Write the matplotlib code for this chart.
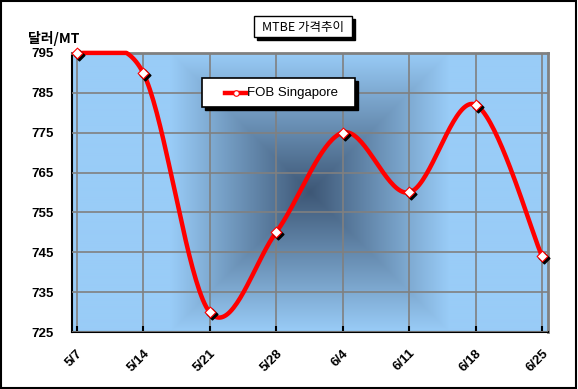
import numpy as np
import matplotlib
matplotlib.use("Agg")
import matplotlib.pyplot as plt
import matplotlib.transforms as mtransforms
from matplotlib.patches import Rectangle
from matplotlib.lines import Line2D

plt.rcParams['font.family'] = ['Liberation Sans', 'Noto Sans CJK KR', 'DejaVu Sans']
KR = ['Noto Sans CJK KR', 'DejaVu Sans']

dates = ["5/7", "5/14", "5/21", "5/28", "6/4", "6/11", "6/18", "6/25"]
price = [795, 790, 730, 750, 775, 760, 782, 744]
yticks = [725, 735, 745, 755, 765, 775, 785, 795]


def smooth(xs, ys, n=40):
    # Excel-style smoothed line (Catmull-Rom as cubic Bezier)
    P = np.column_stack([xs, ys]).astype(float)
    P = np.vstack([P[0], P, P[-1]])
    out = []
    for i in range(1, len(P) - 2):
        p0, p1, p2, p3 = P[i - 1], P[i], P[i + 1], P[i + 2]
        b1 = p1 + (p2 - p0) / 6
        b2 = p2 - (p3 - p1) / 6
        t = np.linspace(0, 1, n)[:, None]
        seg = ((1 - t) ** 3) * p1 + 3 * ((1 - t) ** 2) * t * b1 + 3 * (1 - t) * t ** 2 * b2 + t ** 3 * p2
        out.append(seg if i == 1 else seg[1:])
    s = np.vstack(out)
    return s[:, 0], s[:, 1]


fig = plt.figure(figsize=(5.78, 3.89), dpi=100)
fig.patch.set_facecolor("white")
fig.patches.append(Rectangle((0.002, 0.003), 0.995, 0.994, transform=fig.transFigure,
                             fill=False, lw=1.5, ec="black"))

ax = fig.add_axes([0.1246, 0.1465, 0.8235, 0.7175])
x = np.arange(len(dates))
ax.set_xlim(-0.07, len(dates) - 1 + 0.09)
ax.set_ylim(725, 795)

# square "from center" gradient, measured in pixels (plot area ~476 x 279 px)
u = np.linspace(-238, 238, 476)
v = np.linspace(-139.5, 139.5, 279)
U, V = np.meshgrid(u, v)
r = np.maximum(np.abs(U), np.abs(V)) / 139.5
t = np.clip(1 - r, 0, 1)
dark = np.array([0.24, 0.34, 0.46])
light = np.array([0.60, 0.80, 0.97])
img = light[None, None, :] * (1 - t[..., None]) + dark[None, None, :] * t[..., None]
ax.imshow(img, extent=[*ax.get_xlim(), *ax.get_ylim()], aspect="auto", zorder=0,
          interpolation="bilinear")

ax.set_yticks(yticks)
ax.set_xticks(x)
ax.grid(True, color="#808080", lw=1.2, zorder=1)
ax.set_axisbelow(False)
for s in ["top", "right"]:
    ax.spines[s].set_color("#808080")
    ax.spines[s].set_linewidth(2)
for s in ["left", "bottom"]:
    ax.spines[s].set_color("black")
    ax.spines[s].set_linewidth(1.5)

ax.set_yticklabels([str(y) for y in yticks], fontsize=9.5, fontweight="bold")
ax.set_xticklabels(dates, fontsize=9.5, fontweight="bold", rotation=45,
                   ha="right", va="top", rotation_mode="anchor")
ax.tick_params(axis="y", length=0, pad=13)
ax.tick_params(axis="x", length=4, width=1.5, direction="in", pad=11)

sx, sy = smooth(x, price)
sy = np.minimum(sy, ax.get_ylim()[1])
ax.plot(sx, sy, color="#ff0000", lw=3.2, zorder=3, solid_capstyle="round", clip_on=False)
shadow = mtransforms.offset_copy(ax.transData, fig=fig, x=2, y=-2, units="dots")
ax.scatter(x, price, marker="D", s=30, color="black", zorder=3.5, transform=shadow,
           clip_on=False)
ax.scatter(x, price, marker="D", s=30, facecolor="white", edgecolor="#ff0000", lw=0.8,
           zorder=4, clip_on=False)

# title box with shadow
fig.patches.append(Rectangle((254 / 578 + 0.005, 1 - 40 / 389), 98 / 578, 21 / 389,
                             transform=fig.transFigure, fc="black", ec="black"))
fig.patches.append(Rectangle((254 / 578, 1 - 37 / 389), 98 / 578, 21 / 389,
                             transform=fig.transFigure, fc="white", ec="black", lw=1))
fig.text(303 / 578, 1 - 27 / 389, "MTBE 가격추이", family=KR, fontsize=9,
         ha="center", va="center")

fig.text(28 / 578, 1 - 38 / 389, "달러/MT", family=KR, fontsize=10, fontweight="bold",
         ha="left", va="center")

# legend box with shadow
fig.patches.append(Rectangle((205 / 578, 1 - 110 / 389), 153 / 578, 29 / 389,
                             transform=fig.transFigure, fc="black", ec="black"))
fig.patches.append(Rectangle((202 / 578, 1 - 107 / 389), 153 / 578, 29 / 389,
                             transform=fig.transFigure, fc="white", ec="black", lw=1.2))
fig.lines.append(Line2D([225 / 578, 246 / 578], [1 - 93 / 389, 1 - 93 / 389],
                        transform=fig.transFigure, color="#ff0000", lw=3.2))
fig.lines.append(Line2D([235.5 / 578], [1 - 93 / 389], transform=fig.transFigure,
                        marker="o", markersize=4, mfc="white", mec="#ff0000", mew=0.8))
fig.text(247 / 578, 1 - 93 / 389, "FOB Singapore", fontsize=9.5, ha="left", va="center")

fig.savefig("out.png", dpi=100)
